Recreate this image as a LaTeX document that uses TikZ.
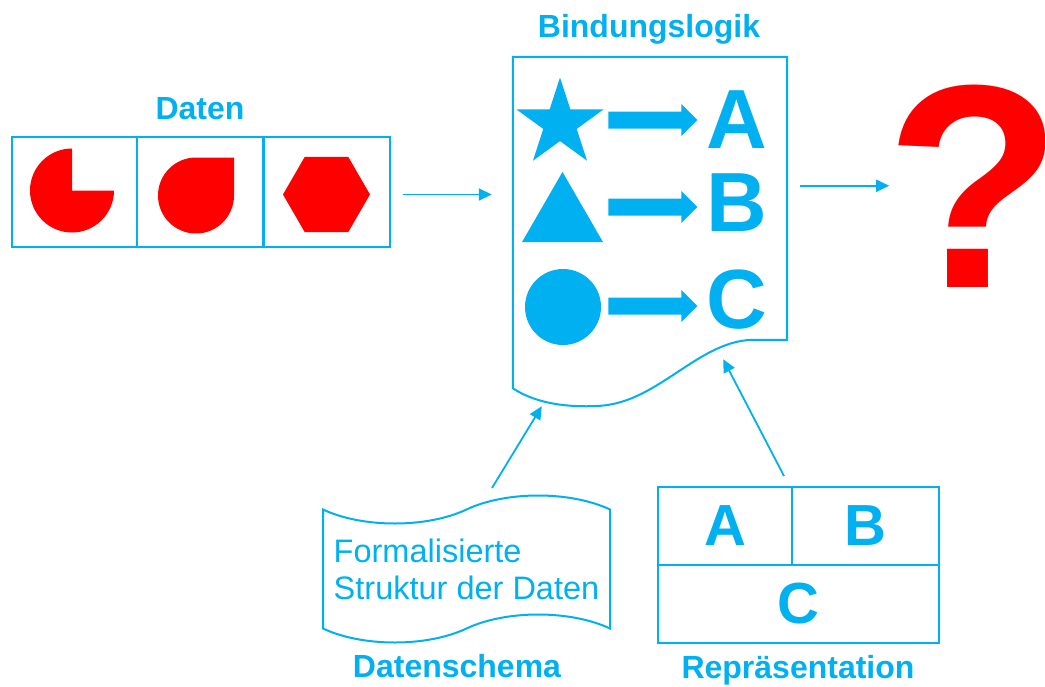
\documentclass[tikz,border=0pt]{standalone}
\usepackage{fontspec}
\setmainfont{Liberation Sans}
\usetikzlibrary{arrows.meta,shapes.geometric,shapes.symbols,calc}

\definecolor{blau}{RGB}{0,176,240}
\definecolor{rot}{RGB}{255,0,0}

\tikzset{
  zelle/.style={draw=blau, line width=2pt, inner sep=0pt, text=blau,
    font=\fontsize{58}{58}\selectfont\bfseries},
  titel/.style={text=blau, inner sep=0pt, anchor=base,
    font=\fontsize{32}{32}\selectfont\bfseries},
  buchstabe/.style={text=blau, inner sep=0pt,
    font=\fontsize{84}{84}\selectfont\bfseries},
  symbol/.style={fill=blau, inner sep=0pt},
  pfeil/.style={draw=blau, line width=1.8pt, -{Triangle[length=13pt,width=12pt]}},
}

\begin{document}
\begin{tikzpicture}[x=1pt, y=-1pt]
  \useasboundingbox (0,0) rectangle (1045,686);

  % Daten: three cells with red shapes
  \node[titel] (datenname) at (200,119) {Daten};
  \node[zelle, minimum width=125pt, minimum height=110pt] (d1) at (74.5,191.5) {};
  \node[zelle, minimum width=127pt, minimum height=110pt] (d2) at (200.5,191.5) {};
  \node[zelle, minimum width=127pt, minimum height=110pt] (d3) at (326.5,191.5) {};
  \fill[rot] ([shift={(-2.5,-1)}]d1.center) -- ++(42,0)
    arc[start angle=0, end angle=270, radius=42] -- cycle;
  \fill[rot] ([shift={(-4.5,4)}]d2.center) ++(0,-38) -- ++(38,0) -- ++(0,38)
    arc[start angle=0, end angle=270, radius=38] -- cycle;
  \node[regular polygon, regular polygon sides=6, fill=rot, inner sep=0pt,
    minimum size=87pt] (sechseck) at ([yshift=-3pt]d3.center) {};

  % Bindungslogik: page with wavy bottom edge
  \node[titel] (logikname) at (649,37) {Bindungslogik};
  \node[minimum width=274pt, minimum height=331pt, inner sep=0pt] (logik) at (650,222.5) {};
  \draw[blau, line width=2pt] (logik.north west) -- (logik.north east) -- ++(0,283)
    -- ++(-30,0) .. controls +(-57,-2) and +(60,-4) .. ++(-157,66)
    .. controls +(-50,3) and +(12,8) .. (logik.south west) -- cycle;

  \node[star, star points=5, star point ratio=2.618, symbol, minimum size=92pt] (stern) at (560,123.5) {};
  \node[regular polygon, regular polygon sides=3, symbol, minimum size=93.5pt] (dreieck) at (562.5,218.7) {};
  \node[circle, symbol, minimum size=76pt] (kreis) at (563,307) {};

  \node[buchstabe] (la) at (737,120) {A};
  \node[buchstabe] (lb) at (737,203) {B};
  \node[buchstabe] (lc) at (737,300) {C};

  % block arrows in front of the letters
  \foreach \z/\v in {la/0, lb/4, lc/6}
    \fill[blau] ([yshift=-\v pt]\z.west) ++(-9,0) -- ++(-16,-16) -- ++(0,7.5) -- ++(-73,0)
      -- ++(0,17) -- ++(73,0) -- ++(0,7.5) -- cycle;

  % result
  \node[text=rot, inner sep=0pt, anchor=base,
    font=\fontsize{290}{290}\selectfont\bfseries] (frage) at (974,287) {?};

  % Datenschema
  \node[tape, draw=blau, line width=2pt, tape bend height=28pt, minimum width=287pt,
    minimum height=147pt, align=left, text=blau,
    font=\fontsize{32.5}{37}\selectfont] (schema) at (466.5,569) {Formalisierte\\Struktur der Daten};
  \node[titel] (schemaname) at (457,677) {Datenschema};

  % Repraesentation
  \node[zelle, minimum width=134pt, minimum height=78pt] (ra) at (725,526) {A};
  \node[zelle, minimum width=147pt, minimum height=78pt] (rb) at (865.5,526) {B};
  \node[zelle, minimum width=281pt, minimum height=78pt] (rc) at (798.5,604) {C};
  \node[titel] (repname) at (798,678) {Repräsentation};

  % connectors
  \draw[pfeil, shorten <=12pt, shorten >=21pt] ([yshift=-3pt]d3.east) -- ([yshift=-3pt]d3.east -| logik.west);
  \draw[pfeil, shorten <=13pt, shorten >=-4pt] (logik.east |- frage) -- (frage.west);
  \draw[pfeil] ($(schema.center)+(25.5,-81)$) -- ($(logik.south west)+(29,18)$);
  \draw[pfeil] ($(rb.north west)+(-7,-10)$) -- ($(logik.south east)+(-64,-29)$);
\end{tikzpicture}
\end{document}
